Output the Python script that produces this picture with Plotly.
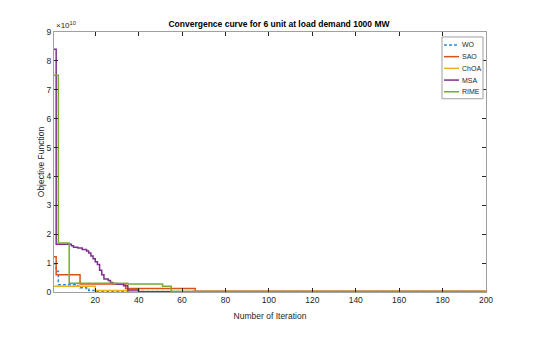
import plotly.graph_objects as go

# objective function values (x 1e10), step curves: value holds from each iteration to the next
wo_iter = [1, 2, 3, 12, 13, 16, 17, 20, 200]
wo_val = [0.98, 0.72, 0.25, 0.2, 0.15, 0.1, 0.05, 0.02, 0.02]

sao_iter = [1, 2, 13, 34, 66, 200]
sao_val = [1.22, 0.6, 0.28, 0.12, 0.03, 0.03]

choa_iter = [1, 20, 36, 200]
choa_val = [0.2, 0.05, 0.02, 0.02]

msa_iter = [1, 2, 9, 10, 12, 14, 16, 17, 18, 19, 20, 21, 22, 23, 24, 26, 27, 28, 30, 33, 35, 40, 200]
msa_val = [8.4, 1.65, 1.6, 1.55, 1.52, 1.47, 1.42, 1.35, 1.25, 1.15, 1.05, 0.95, 0.75, 0.6, 0.45, 0.4, 0.33, 0.29, 0.27, 0.22, 0.07, 0.01, 0.01]

rime_iter = [1, 3, 8, 35, 51, 55, 200]
rime_val = [7.5, 1.7, 0.3, 0.28, 0.2, 0.02, 0.02]

x_ticks = [20, 40, 60, 80, 100, 120, 140, 160, 180, 200]
y_ticks = [0, 1, 2, 3, 4, 5, 6, 7, 8, 9]

series = [
    ("WO", wo_iter, wo_val, "#2B8CD6", "3px,2px"),
    ("SAO", sao_iter, sao_val, "#D95319", "solid"),
    ("ChOA", choa_iter, choa_val, "#EDB120", "solid"),
    ("MSA", msa_iter, msa_val, "#7E2F8E", "solid"),
    ("RIME", rime_iter, rime_val, "#77AC30", "solid"),
]

fig = go.Figure()
for name, xs, ys, col, dash in series:
    fig.add_trace(go.Scatter(x=xs, y=ys, name=name, mode="lines", showlegend=False,
                             line=dict(color=col, width=1.5, dash=dash, shape="hv")))

# plot area in pixels (page body adds an 8px offset, margins compensate)
PL, PR, PT, PB = 54, 486, 32, 293
def px(X):
    return (X - PL) / (PR - PL)
def py(Y):
    return (PB - Y) / (PB - PT)

font = "Liberation Sans, Arial, sans-serif"
fig.update_layout(
    width=542, height=340,
    margin=dict(l=46, r=64, t=24, b=56),
    paper_bgcolor="white", plot_bgcolor="white",
    font=dict(family=font, size=8.5, color="#262626"),
    title=dict(text="<b>Convergence curve for 6 unit at load demand 1000 MW</b>",
               x=0.5, xanchor="center", y=1 - 16 / 340, yanchor="middle",
               font=dict(size=8.5, color="#000000")),
    showlegend=False,
)
fig.update_xaxes(range=[1, 200], tickvals=x_ticks, ticks="inside", ticklen=4,
                 tickcolor="#262626", showline=True, linecolor="#a0a0a0", linewidth=1,
                 mirror="ticks", showgrid=False, zeroline=False,
                 title=dict(text="Number of Iteration", standoff=8, font=dict(size=8.5)))
fig.update_yaxes(range=[0, 9], tickvals=y_ticks, ticks="inside", ticklen=4,
                 tickcolor="#262626", showline=True, linecolor="#a0a0a0", linewidth=1,
                 mirror="ticks", showgrid=False, zeroline=False,
                 title=dict(text="Objective Function", standoff=0, font=dict(size=8.5)))
fig.add_annotation(text="×10<sup>10</sup>", xref="paper", yref="paper", x=0.0, y=1.0,
                   xanchor="left", yanchor="bottom", showarrow=False,
                   font=dict(size=8, color="#262626"))

# legend box, drawn small like the MATLAB one
fig.add_shape(type="rect", xref="paper", yref="paper",
              x0=px(442), x1=px(483), y0=py(99), y1=py(37),
              fillcolor="white", line=dict(color="#a0a0a0", width=1), layer="above")
for i, (name, xs, ys, col, dash) in enumerate(series):
    row = 45 + i * 11.75
    fig.add_shape(type="line", xref="paper", yref="paper",
                  x0=px(444), x1=px(459), y0=py(row), y1=py(row),
                  line=dict(color=col, width=1.5, dash=dash), layer="above")
    fig.add_annotation(text=name, xref="paper", yref="paper", x=px(460), y=py(row),
                       xanchor="left", yanchor="middle", showarrow=False,
                       font=dict(size=7, color="#262626"))

fig.write_html("out.html")
